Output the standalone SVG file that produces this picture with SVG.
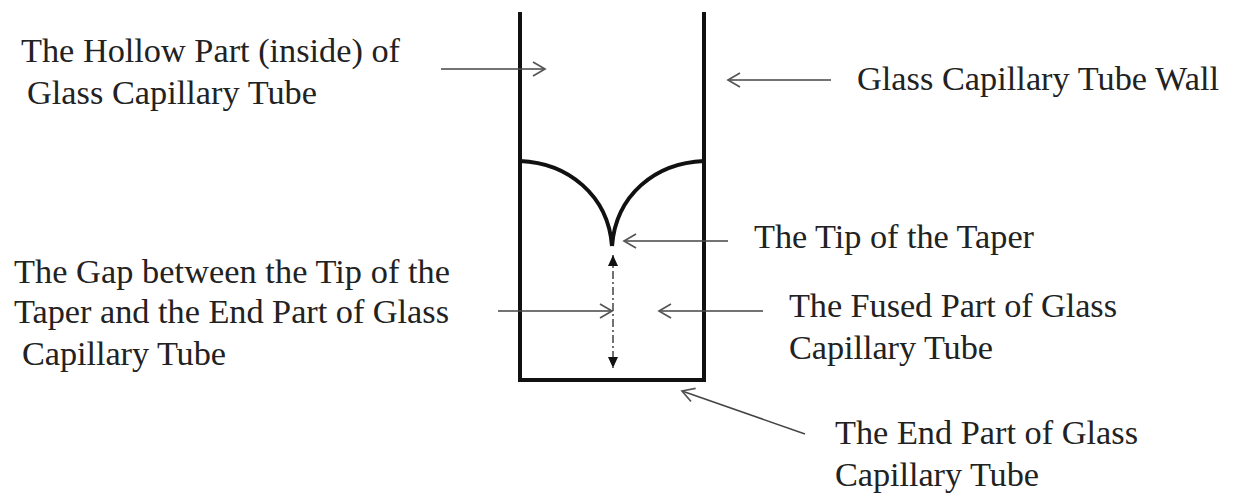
<svg xmlns="http://www.w3.org/2000/svg" width="1241" height="497" viewBox="0 0 1241 497">
<style>
text{font-family:"Liberation Serif",serif;font-size:34.3px;fill:#222}
.w{fill:none;stroke:#111;stroke-width:4}
.c{fill:none;stroke:#444;stroke-width:1.5}
.d{stroke-dasharray:8 3 2 3}
</style>
<defs>
<marker id="o" viewBox="0 0 16 16" refX="14" refY="8" markerWidth="16" markerHeight="16" markerUnits="userSpaceOnUse" orient="auto-start-reverse"><path d="M2 1L14 8L2 15" fill="none" stroke="#555" stroke-width="1.7"/></marker>
<marker id="f" viewBox="0 0 12 12" refX="11" refY="6" markerWidth="12" markerHeight="12" markerUnits="userSpaceOnUse" orient="auto-start-reverse"><path d="M0 1L11 6L0 11Z" fill="#111"/></marker>
</defs>
<rect width="1241" height="497" fill="#fff"/>
<g id="tube"><path class="w" d="M520 12V380H704V12"/><path class="w" d="M520 161C568 163 608 195 612 246M704 161C655 163 616 195 612 246"/></g>
<g id="connectors">
<path class="c" d="M441 69H545" marker-end="url(#o)"/>
<path class="c" d="M831 80H728" marker-end="url(#o)"/>
<path class="c" d="M728 241H624" marker-end="url(#o)"/>
<path class="c" d="M498 311H612" marker-end="url(#o)"/>
<path class="c" d="M763 311H659" marker-end="url(#o)"/>
<path class="c" d="M805 434L682 391" marker-end="url(#o)"/>
<path class="c d" d="M613 255V368" marker-start="url(#f)" marker-end="url(#f)"/>
</g>
<g id="label-hollow"><text x="21" y="62" textLength="379">The Hollow Part (inside) of</text><text x="27" y="104" textLength="290">Glass Capillary Tube</text></g>
<g id="label-wall"><text x="857" y="90" textLength="362">Glass Capillary Tube Wall</text></g>
<g id="label-tip"><text x="754" y="248" textLength="280">The Tip of the Taper</text></g>
<g id="label-gap"><text x="14" y="283" textLength="436">The Gap between the Tip of the</text><text x="14" y="323" textLength="435">Taper and the End Part of Glass</text><text x="22" y="365" textLength="204">Capillary Tube</text></g>
<g id="label-fused"><text x="789" y="317" textLength="328">The Fused Part of Glass</text><text x="789" y="359" textLength="204">Capillary Tube</text></g>
<g id="label-end"><text x="835" y="444" textLength="303">The End Part of Glass</text><text x="835" y="486" textLength="204">Capillary Tube</text></g>
</svg>
